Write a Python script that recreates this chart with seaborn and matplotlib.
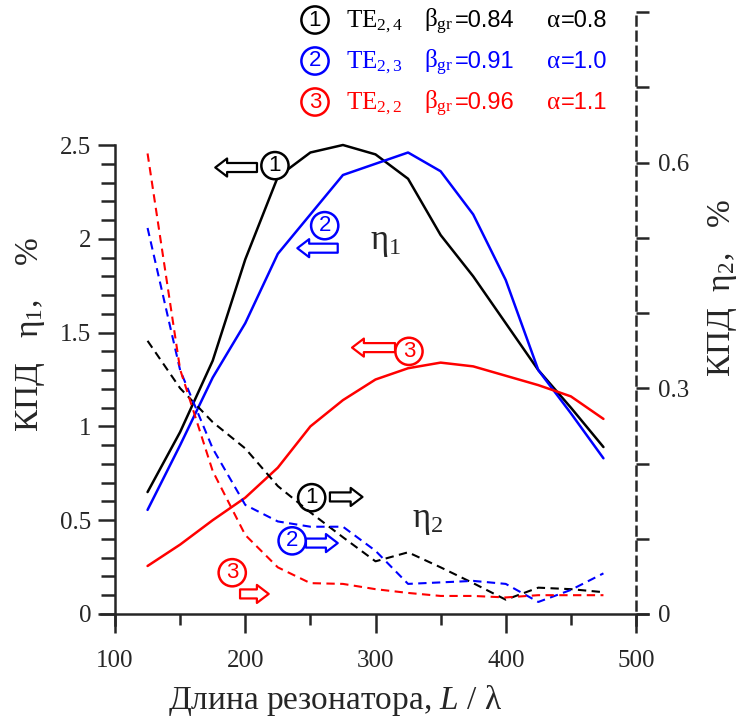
import numpy as np
import pandas as pd
import matplotlib
matplotlib.use('Agg')
import matplotlib.pyplot as plt
from matplotlib.ticker import MultipleLocator, FixedLocator
import seaborn as sns

# resonator length L / lambda
L = [125, 150, 175, 200, 225, 250, 275, 300, 325, 350, 375, 400, 425, 450, 475]

# efficiency eta1, % (left axis)
eta1_te24 = [0.65, 0.97, 1.35, 1.89, 2.33, 2.46, 2.50, 2.45, 2.32, 2.02, 1.80, 1.55, 1.30, 1.10, 0.89]
eta1_te23 = [0.555, 0.90, 1.26, 1.55, 1.92, 2.13, 2.34, 2.40, 2.46, 2.36, 2.13, 1.78, 1.30, 1.07, 0.83]
eta1_te22 = [0.256, 0.37, 0.50, 0.62, 0.78, 1.00, 1.14, 1.25, 1.31, 1.34, 1.32, 1.27, 1.22, 1.16, 1.04]

# efficiency eta2, % (right axis)
eta2_te24 = [0.363, 0.30, 0.255, 0.22, 0.170, 0.135, 0.102, 0.070, 0.082, 0.062, 0.041, 0.019, 0.035, 0.033, 0.029]
eta2_te23 = [0.513, 0.324, 0.22, 0.145, 0.123, 0.116, 0.116, 0.084, 0.040, 0.042, 0.044, 0.040, 0.016, 0.032, 0.054]
eta2_te22 = [0.612, 0.325, 0.19, 0.105, 0.062, 0.041, 0.040, 0.033, 0.028, 0.024, 0.024, 0.022, 0.025, 0.025, 0.025]

modes = ['TE24', 'TE23', 'TE22']
colors = ['black', 'blue', 'red']
numbers = ['1', '2', '3']
mode_labels = ['TE$_{2,4}$', 'TE$_{2,3}$', 'TE$_{2,2}$']
beta_gr = ['0.84', '0.91', '0.96']
alpha = ['0.8', '1.0', '1.1']

# long tables for seaborn
df1 = pd.concat([pd.DataFrame({'L': L, 'eta': v, 'mode': m})
                 for v, m in zip([eta1_te24, eta1_te23, eta1_te22], modes)])
df2 = pd.concat([pd.DataFrame({'L': L, 'eta': v, 'mode': m})
                 for v, m in zip([eta2_te24, eta2_te23, eta2_te22], modes)])
pal = dict(zip(modes, colors))

sns.set_style('ticks')
plt.rcParams['font.family'] = ['Liberation Serif', 'DejaVu Serif']
plt.rcParams['mathtext.fontset'] = 'custom'
plt.rcParams['mathtext.rm'] = 'Liberation Serif'
plt.rcParams['mathtext.it'] = 'Liberation Serif:italic'
plt.rcParams['mathtext.sf'] = 'Liberation Sans'

W, H = 740, 726
fig = plt.figure(figsize=(W / 100, H / 100), dpi=100)
ax = fig.add_axes([115 / W, (H - 614) / H, 521 / W, 602 / H])
ax2 = ax.twinx()

sns.lineplot(data=df1, x='L', y='eta', hue='mode', palette=pal, ax=ax,
             legend=False, linewidth=1.8, estimator=None, sort=False)
sns.lineplot(data=df2, x='L', y='eta', hue='mode', palette=pal, ax=ax2,
             legend=False, linewidth=1.5, estimator=None, sort=False,
             linestyle=(0, (4, 2.6)))

ax.set_xlim(100, 500)
ax.set_ylim(0, 602 / 187.6)
ax2.set_ylim(0, 0.8)

ax.spines['top'].set_visible(False)
ax2.spines['top'].set_visible(False)
ax.spines['right'].set_visible(False)
ax2.spines['left'].set_visible(False)
ax2.spines['bottom'].set_visible(False)
ax.spines['left'].set_bounds(-0.06, 2.5)
ax.spines['bottom'].set_bounds(89, 509)
ax2.spines['right'].set_bounds(-0.015, 0.8)
ax.spines['left'].set_linewidth(1.8)
ax.spines['bottom'].set_linewidth(1.8)
ax2.spines['right'].set_linewidth(1.8)
ax2.spines['right'].set_linestyle((0, (3.5, 2.5)))

ax.xaxis.set_major_locator(MultipleLocator(100))
ax.xaxis.set_minor_locator(MultipleLocator(50))
ax.yaxis.set_major_locator(FixedLocator([0, 0.5, 1, 1.5, 2, 2.5]))
ax.yaxis.set_minor_locator(FixedLocator(np.arange(0, 2.51, 0.1)))
ax.set_yticklabels(['0', '0.5', '1', '1.5', '2', '2.5'])
ax2.yaxis.set_major_locator(FixedLocator([0, 0.3, 0.6]))
ax2.yaxis.set_minor_locator(FixedLocator(np.arange(0, 0.81, 0.1)))
ax2.set_yticklabels(['0', '0.3', '0.6'])

ax.tick_params(axis='x', which='major', direction='out', length=14, width=1.8, labelsize=18, pad=12)
ax.tick_params(axis='x', which='minor', direction='out', length=8, width=1.8)
ax.tick_params(axis='y', which='major', direction='out', length=12, width=1.8, labelsize=18, pad=5)
ax.tick_params(axis='y', which='minor', direction='out', length=10, width=1.8)
ax2.tick_params(axis='y', which='major', direction='out', length=9, width=1.8, labelsize=18, pad=7)
ax2.tick_params(axis='y', which='minor', direction='out', length=9, width=1.8)

ax.set_xlabel('Длина резонатора, $\\mathit{L}$ / λ', fontsize=24)
ax.xaxis.set_label_coords((335 - 115) / 521, -(683 - 614) / 602)
ax.set_ylabel('КПД   η$_1$,    %', fontsize=24)
ax.yaxis.set_label_coords(-(115 - 47) / 521, (614 - 335) / 602)
ax2.set_ylabel('КПД  η$_2$,   %', fontsize=24)
ax2.yaxis.set_label_coords((706 - 115) / 521, (614 - 288) / 602)

ax.text(296, 1.98, 'η$_1$', fontsize=25, va='center')
ax.text(328, 0.50, 'η$_2$', fontsize=25, va='center')


def circled(axis_or_fig, x, y, num, color, size=16, **kw):
    axis_or_fig.text(x, y, num, color=color, fontsize=size, ha='center', va='center',
                     family='Liberation Sans',
                     bbox=dict(boxstyle='circle,pad=0.14', fc='white', ec=color, lw=1.8), **kw)


def hollow_arrow(x0, x1, y, color):
    ax.annotate('', xy=(x1, y), xytext=(x0, y),
                arrowprops=dict(arrowstyle='simple,head_width=1.3,head_length=0.85,tail_width=0.65',
                                fc='white', ec=color, lw=1.6, shrinkA=0, shrinkB=0))


# eta1 markers (arrows to the left axis)
circled(ax, 222.8, 2.39, '1', 'black')
hollow_arrow(209, 177, 2.38, 'black')
circled(ax, 261, 2.07, '2', 'blue')
hollow_arrow(271, 240, 1.95, 'blue')
circled(ax, 325.7, 1.40, '3', 'red')
hollow_arrow(315, 282, 1.42, 'red')

# eta2 markers (arrows to the right axis)
circled(ax, 251, 0.62, '1', 'black')
hollow_arrow(265, 290, 0.624, 'black')
circled(ax, 236, 0.39, '2', 'blue')
hollow_arrow(246.6, 271, 0.378, 'blue')
circled(ax, 190, 0.22, '3', 'red')
hollow_arrow(196, 218, 0.107, 'red')

# legend rows at the top
for i in range(3):
    yb = 1 - (27 + 41 * i) / H
    circled(fig, 315 / W, 1 - (20 + 41 * i) / H, numbers[i], colors[i], size=16)
    fig.text(346 / W, yb, mode_labels[i], color=colors[i], fontsize=18, va='baseline')
    fig.text(424 / W, yb, 'β$_{\\mathrm{gr}}$', color=colors[i], fontsize=18, va='baseline')
    fig.text(455 / W, yb, '=' + beta_gr[i], color=colors[i], fontsize=17, va='baseline',
             family='Liberation Sans')
    fig.text(547 / W, yb, 'α', color=colors[i], fontsize=18, va='baseline')
    fig.text(561 / W, yb, '=' + alpha[i], color=colors[i], fontsize=17, va='baseline',
             family='Liberation Sans')

fig.savefig('out.png', dpi=100)
